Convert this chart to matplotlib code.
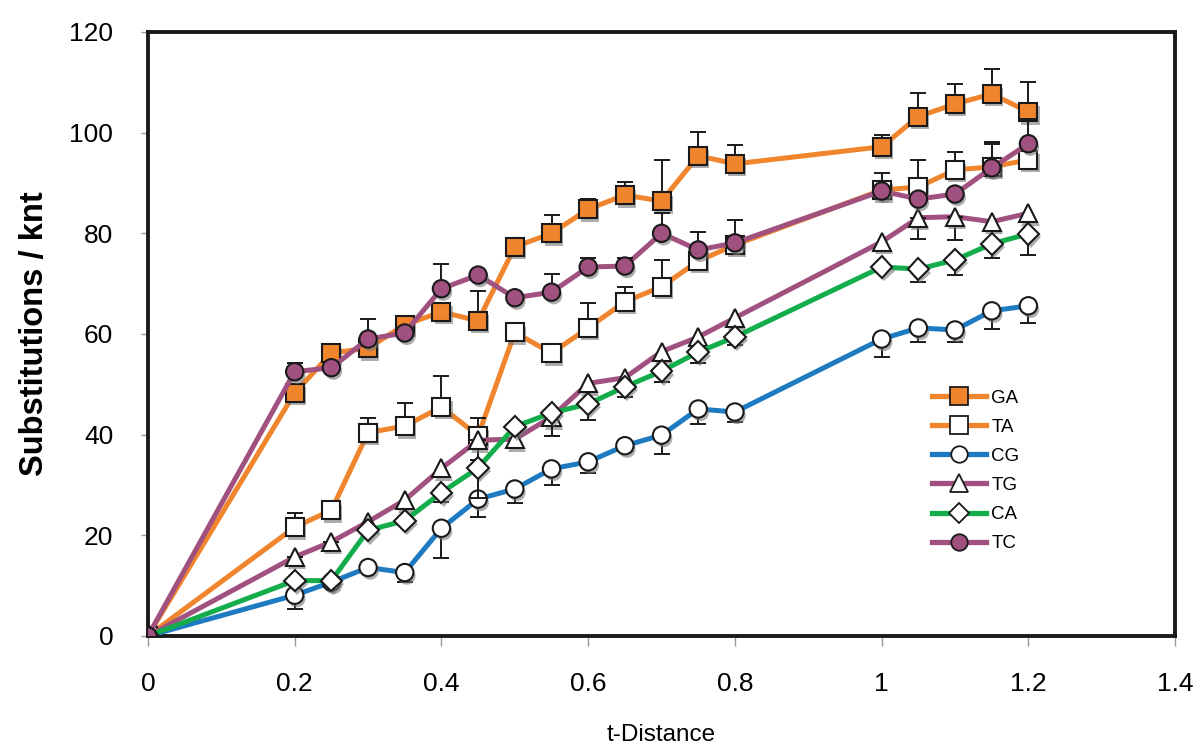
import matplotlib
matplotlib.use("Agg")
import matplotlib.pyplot as plt
import matplotlib.patheffects as pe
from matplotlib.ticker import FuncFormatter
import numpy as np

plt.rcParams['font.family'] = ['Liberation Sans', 'DejaVu Sans']

# t-Distance
t_dist = [0, 0.2, 0.25, 0.3, 0.35, 0.4, 0.45, 0.5, 0.55, 0.6, 0.65, 0.7,
          0.75, 0.8, 1.0, 1.05, 1.1, 1.15, 1.2]

# 各替换类型的数值 (Substitutions / knt)
ga = [0, 48.3, 56.2, 57.2, 61.8, 64.4, 62.6, 77.3, 80.0, 84.8, 87.6, 86.4,
      95.4, 93.8, 97.2, 103.2, 105.7, 107.7, 104.1]
ta = [0, 21.6, 25.0, 40.4, 41.7, 45.5, 39.8, 60.3, 56.2, 61.2, 66.4, 69.4,
      74.5, 77.7, 88.6, 89.2, 92.6, 93.2, 94.6]
cg = [0, 8.1, 10.7, 13.6, 12.6, 21.4, 27.2, 29.2, 33.2, 34.6, 37.8, 39.9,
      45.1, 44.5, 59.0, 61.2, 60.8, 64.6, 65.6]
tg = [0, 15.7, 18.7, 22.7, 27.0, 33.3, 38.9, 39.1, 43.5, 50.2, 51.3, 56.5,
      59.4, 63.2, 78.3, 83.1, 83.3, 82.3, 84.0]
ca = [0, 11.0, 11.0, 21.0, 22.9, 28.5, 33.4, 41.6, 44.3, 46.1, 49.5, 52.6,
      56.4, 59.4, 73.3, 72.9, 74.7, 77.9, 79.9]
tc = [0, 52.5, 53.3, 59.0, 60.2, 69.0, 71.7, 67.2, 68.3, 73.3, 73.5, 80.0,
      76.7, 78.1, 88.4, 86.8, 87.8, 93.0, 97.8]

# 误差（GA/TA/TC 向上，CG/TG/CA 向下）
ga_err = [0, 0, 0, 0, 1.0, 0, 6.0, 0, 3.6, 2.0, 2.6, 8.2, 4.8, 3.8, 2.3, 4.7, 4.0, 5.0, 6.0]
ta_err = [0, 2.8, 0, 2.9, 4.6, 6.2, 3.5, 0, 0, 5.0, 2.9, 5.3, 0, 0, 3.4, 5.4, 3.6, 5.0, 0]
tc_err = [0, 1.8, 0, 4.0, 0, 5.0, 0, 0, 3.7, 1.7, 1.6, 4.0, 3.6, 4.6, 0, 0, 0, 4.8, 5.0]
cg_err = [0, 2.8, 0.5, 0, 1.8, 6.0, 3.5, 2.8, 3.2, 2.2, 1.0, 3.7, 3.0, 2.0, 3.6, 2.7, 2.4, 3.6, 3.4]
tg_err = [0, 1.8, 1.5, 0, 0, 0, 4.0, 0, 3.7, 0, 0, 0, 0, 0, 0, 4.2, 4.6, 0, 0]
ca_err = [0, 0, 0, 0, 0, 1.8, 6.0, 0, 4.5, 3.2, 2.0, 2.2, 2.2, 1.6, 0, 2.6, 3.0, 2.8, 4.2]

ORANGE = '#F0852D'
BLUE = '#1F7BC1'
MAUVE = '#A0517F'
GREEN = '#13AD4B'

# (名称, 数值, 误差, 方向, 线色, 标记, 标记填充)
series = [
    ('GA', ga, ga_err, 'up', ORANGE, 's', ORANGE),
    ('TA', ta, ta_err, 'up', ORANGE, 's', 'white'),
    ('CG', cg, cg_err, 'down', BLUE, 'o', 'white'),
    ('TG', tg, tg_err, 'down', MAUVE, '^', 'white'),
    ('CA', ca, ca_err, 'down', GREEN, 'D', 'white'),
    ('TC', tc, tc_err, 'up', MAUVE, 'o', MAUVE),
]
msize = {'s': 13, 'o': 12.5, '^': 13, 'D': 11}

fig = plt.figure(figsize=(12, 7.49), dpi=100)
ax = fig.add_axes([0.1233, 0.1509, 0.856, 0.8064])

shadow = [pe.SimplePatchShadow(offset=(1.5, -2.5), shadow_rgbFace='#777777', alpha=0.6),
          pe.Normal()]

handles = []
for i, (name, vals, err, direction, color, marker, face) in enumerate(series):
    vals = np.array(vals)
    err = np.array(err)
    z = 2 + i
    ax.plot(t_dist, vals, color=color, lw=3.6, zorder=z, solid_capstyle='butt')
    if direction == 'up':
        yerr = [np.zeros_like(err), err]
    else:
        yerr = [err, np.zeros_like(err)]
    mask = err > 0
    ax.errorbar(np.array(t_dist)[mask], vals[mask],
                yerr=[yerr[0][mask], yerr[1][mask]],
                fmt='none', ecolor='#1a1a1a', elinewidth=1.4, capsize=5.5,
                capthick=1.4, zorder=z + 0.1)
    ax.plot(t_dist, vals, linestyle='none', marker=marker, markersize=msize[marker],
            markerfacecolor=face, markeredgecolor='#1a1a1a', markeredgewidth=1.5,
            zorder=z + 0.2, path_effects=shadow)
    h, = ax.plot([], [], color=color, lw=3.8, marker=marker,
                 markersize=msize[marker] * 0.95, markerfacecolor=face,
                 markeredgecolor='#1a1a1a', markeredgewidth=1.3, label=name)
    handles.append(h)

ax.set_xlim(0, 1.4)
ax.set_ylim(0, 120)
ax.set_xticks(np.arange(0, 1.41, 0.2))
ax.set_yticks(np.arange(0, 121, 20))
ax.xaxis.set_major_formatter(FuncFormatter(lambda v, p: f'{v:g}'))

for s in ax.spines.values():
    s.set_linewidth(2.8)
    s.set_color('#1a1a1a')
ax.tick_params(axis='both', direction='out', width=1, color='#999999', labelsize=19)
ax.tick_params(axis='x', length=7, pad=19)
ax.tick_params(axis='y', length=5, pad=20)

ax.set_xlabel('t-Distance', fontsize=17.5, labelpad=20)
ax.set_ylabel('Substitutions / knt', fontsize=23.5, fontweight='bold', labelpad=14)

ax.legend(handles=handles, loc='upper left', bbox_to_anchor=(0.7546, 0.4235),
          frameon=False, fontsize=13.5, handlelength=2.83, handletextpad=0.3,
          labelspacing=0.64, borderpad=0)

fig.savefig('out.png', dpi=100)
